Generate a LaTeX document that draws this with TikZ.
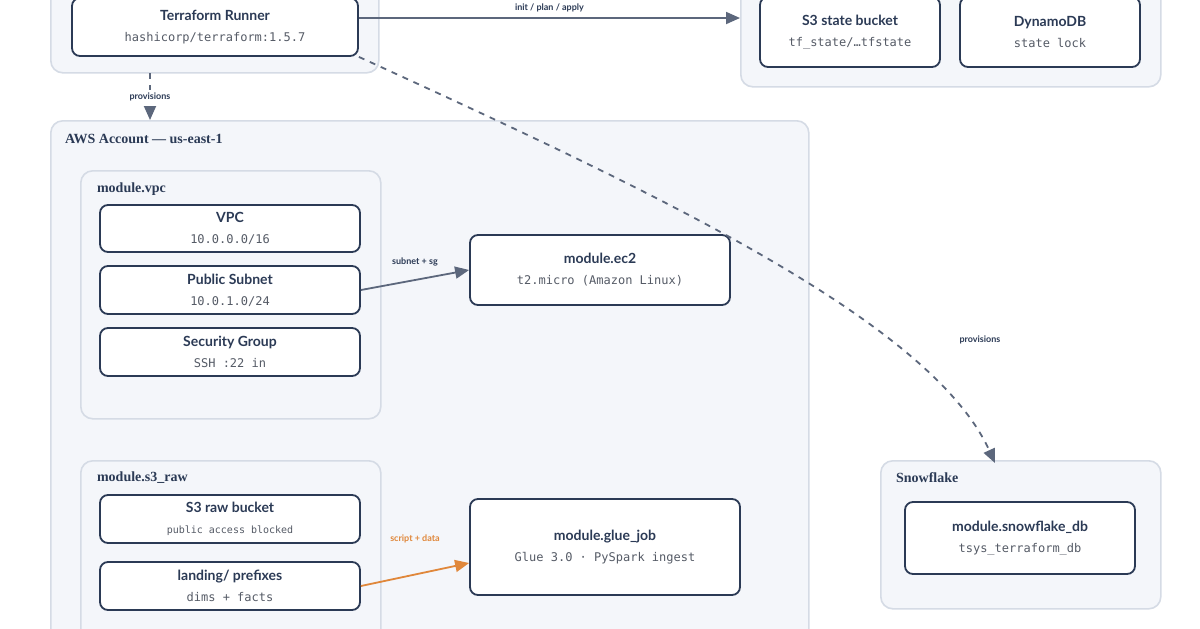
\documentclass[tikz,border=0pt]{standalone}
\usepackage{fontspec}
\setmainfont{Lato}
\newfontfamily\monofont{DejaVu Sans Mono}
\newfontfamily\grpfont{Liberation Serif}
\usetikzlibrary{arrows.meta,positioning}
\definecolor{grpfill}{HTML}{F4F6FA}
\definecolor{grpline}{HTML}{D5DBE5}
\definecolor{boxline}{HTML}{2B3A55}
\definecolor{arrowgrey}{HTML}{5C677C}
\definecolor{subtext}{HTML}{555B66}
\definecolor{orangeflow}{HTML}{E0873A}
\tikzset{
  group/.style={draw=grpline, fill=grpfill, line width=0.8pt, rounded corners=6pt, anchor=north west, inner sep=0pt},
  grouplabel/.style={anchor=west, font=\grpfont\bfseries\fontsize{7}{8}\selectfont, text=boxline},
  module/.style={draw=boxline, fill=white, line width=0.9pt, rounded corners=4pt, align=center, text=boxline},
  flow/.style={-{Triangle[length=7pt,width=6pt]}, draw=arrowgrey, line width=0.9pt},
  flowlabel/.style={font=\bfseries\fontsize{4.5}{5}\selectfont, text=boxline}
}
\newcommand{\boxtext}[2]{{\bfseries\fontsize{7}{8}\selectfont #1}\\[-1.5pt]{\monofont\fontsize{6}{7}\selectfont\color{subtext}#2}}
\begin{document}
\begin{tikzpicture}[x=0.5pt,y=-0.5pt]
    \useasboundingbox[fill=white] (0,0) rectangle (1200,628);

    % Groups
    \node[group, minimum width=164pt, minimum height=46pt] (runnergrp) at (50,-20) {};
    \node[group, minimum width=210pt, minimum height=53pt] (stategrp) at (740,-20) {};
    \node[group, minimum width=379pt, minimum height=270pt] (awsgrp) at (50,120) {};
    \node[group, minimum width=150pt, minimum height=124pt] (vpcgrp) at (80,170) {};
    \node[group, minimum width=150pt, minimum height=100pt] (s3grp) at (80,460) {};
    \node[group, minimum width=140pt, minimum height=74pt] (snowgrp) at (880,460) {};

    \node[grouplabel] at (58,139) {AWS Account — us-east-1};
    \node[grouplabel] at (90,189) {module.vpc};
    \node[grouplabel] at (90,478) {module.s3\_raw};
    \node[grouplabel] at (889,478) {Snowflake};

    % Modules
    \node[module, minimum width=143pt, minimum height=29pt] (runner) at (215,27) {\boxtext{Terraform Runner}{hashicorp/terraform:1.5.7}};
    \node[module, minimum width=90pt, minimum height=35pt] (statebucket) at (850,32) {\boxtext{S3 state bucket}{tf\_state/…tfstate}};
    \node[module, minimum width=90pt, minimum height=35pt] (dynamo) at (1050,32) {\boxtext{DynamoDB}{state lock}};

    \node[module, minimum width=130pt, minimum height=23.5pt] (vpc) at (230,228.5) {\boxtext{VPC}{10.0.0.0/16}};
    \node[module, minimum width=130pt, minimum height=24pt] (subnet) at (230,290) {\boxtext{Public Subnet}{10.0.1.0/24}};
    \node[module, minimum width=130pt, minimum height=24pt] (secgroup) at (230,352) {\boxtext{Security Group}{SSH :22 in}};
    \node[module, minimum width=130pt, minimum height=35pt] (ec2) at (600,270) {\boxtext{module.ec2}{t2.micro (Amazon Linux)}};

    \node[module, minimum width=130pt, minimum height=24pt] (rawbucket) at (230,519) {\boxtext{S3 raw bucket}{\fontsize{5}{6}\selectfont public access blocked}};
    \node[module, minimum width=130pt, minimum height=24pt] (landing) at (230,586) {\boxtext{landing/ prefixes}{dims + facts}};
    \node[module, minimum width=135pt, minimum height=48pt] (gluejob) at (605,547) {\boxtext{module.glue\_job}{Glue 3.0 · PySpark ingest}};

    \node[module, minimum width=115pt, minimum height=36pt] (snowdb) at (1020,538) {\boxtext{module.snowflake\_db}{tsys\_terraform\_db}};

    % Connectors
    \coordinate (provtop) at (150,73);
    \coordinate (provbot) at (150,120);
    \draw[flow, dashed] (provtop) -- (provbot) node[midway, flowlabel, fill=white, inner sep=1pt] {provisions};
    \draw[flow] (runner.east |- 0,18) -- (stategrp.west |- 0,18) node[midway, above=-1pt, flowlabel] {init / plan / apply};
    \coordinate (snowtop) at (995,463);
    \draw[flow, dashed] (runner.south east) .. controls (650,190) and (930,320) .. (snowtop);
    \node[flowlabel] at (980,340) {provisions};
    \draw[flow] (subnet.east) -- (ec2.west) node[midway, above=3pt, flowlabel] {subnet + sg};
    \draw[flow, draw=orangeflow] (landing.east) -- (gluejob.west |- 0,563) node[midway, above=12pt, flowlabel, text=orangeflow] {script + data};
\end{tikzpicture}
\end{document}
